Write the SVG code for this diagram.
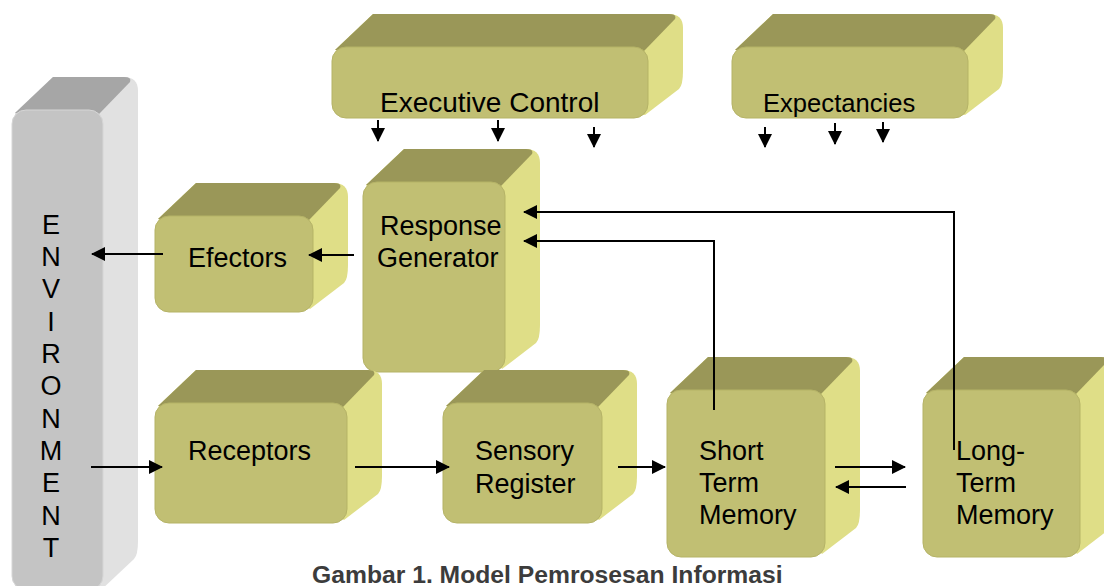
<svg xmlns="http://www.w3.org/2000/svg" width="1104" height="586" viewBox="0 0 1104 586">
<defs>
<style>
.side{fill:#dfde87}
.top{fill:#9a9758}
.front{fill:#c1bf73;stroke:#b5b367;stroke-width:1}
.gside{fill:#e1e1e1}
.gtop{fill:#a6a6a6}
.gfront{fill:#c4c4c4;stroke:#d6d6d6;stroke-width:1}
.lbl{font-family:"Liberation Sans",Arial,sans-serif;font-size:27px;fill:#000}
.cap{font-family:"Liberation Sans",Arial,sans-serif;font-size:24.7px;font-weight:bold;fill:#3c3c3c}
.con{stroke:#000;stroke-width:2;fill:none;marker-end:url(#ah)}
</style>
<marker id="ah" markerUnits="userSpaceOnUse" markerWidth="14" markerHeight="14" refX="13" refY="7" orient="auto">
<path d="M0,0 L14,7 L0,14 Z" fill="#000"/>
</marker>
</defs>
<rect width="1104" height="586" fill="#fff"/>

<g id="environment">
<path class="gside" d="M15,113 L53,77 L124,77 Q138,77 138,91 L138,541 Q138,555 134,559 L100,591 L15,591 Z"/>
<path class="gtop" d="M15,113 L53,77 L124,77 Q132,77 130,82 L99,114 Z"/>
<rect class="gfront" x="12" y="110" width="91" height="480" rx="14"/>
<text class="lbl" text-anchor="middle" x="51">
<tspan x="51" y="234">E</tspan><tspan x="51" y="266">N</tspan><tspan x="51" y="298">V</tspan><tspan x="51" y="331">I</tspan><tspan x="51" y="363">R</tspan><tspan x="51" y="395">O</tspan><tspan x="51" y="428">N</tspan><tspan x="51" y="460">M</tspan><tspan x="51" y="492">E</tspan><tspan x="51" y="525">N</tspan><tspan x="51" y="557">T</tspan>
</text>
</g>

<g id="executive-control">
<path class="side" d="M335,50 L373,14 L669,14 Q683,14 683,28 L683,71 Q683,85 679,89 L645,115 Z"/>
<path class="top" d="M335,50 L373,14 L669,14 Q677,14 675,19 L644,51 Z"/>
<rect class="front" x="332" y="47" width="316" height="71" rx="14"/>
<text class="lbl" x="380" y="112" style="font-size:28px">Executive Control</text>
</g>

<g id="expectancies">
<path class="side" d="M735,50 L773,14 L989,14 Q1003,14 1003,28 L1003,71 Q1003,85 999,89 L965,115 Z"/>
<path class="top" d="M735,50 L773,14 L989,14 Q997,14 995,19 L964,51 Z"/>
<rect class="front" x="732" y="47" width="236" height="71" rx="14"/>
<text class="lbl" x="763" y="112" style="font-size:25.6px">Expectancies</text>
</g>

<g id="efectors">
<path class="side" d="M158,219 L196,183 L334,183 Q348,183 348,197 L348,265 Q348,279 344,283 L310,309 Z"/>
<path class="top" d="M158,219 L196,183 L334,183 Q342,183 340,188 L309,220 Z"/>
<rect class="front" x="155" y="216" width="158" height="96" rx="14"/>
<text class="lbl" x="188" y="267">Efectors</text>
</g>

<g id="response-generator">
<path class="side" d="M366,185 L404,149 L526,149 Q540,149 540,163 L540,325 Q540,339 536,343 L502,369 Z"/>
<path class="top" d="M366,185 L404,149 L526,149 Q534,149 532,154 L501,186 Z"/>
<rect class="front" x="363" y="182" width="142" height="190" rx="14"/>
<text class="lbl"><tspan x="380" y="235">Response</tspan><tspan x="377" y="267">Generator</tspan></text>
</g>

<g id="receptors">
<path class="side" d="M158,406 L196,370 L368,370 Q382,370 382,384 L382,476 Q382,490 378,494 L344,520 Z"/>
<path class="top" d="M158,406 L196,370 L368,370 Q376,370 374,375 L343,407 Z"/>
<rect class="front" x="155" y="403" width="192" height="120" rx="14"/>
<text class="lbl" x="188" y="460">Receptors</text>
</g>

<g id="sensory-register">
<path class="side" d="M446,406 L484,370 L623,370 Q637,370 637,384 L637,476 Q637,490 633,494 L599,520 Z"/>
<path class="top" d="M446,406 L484,370 L623,370 Q631,370 629,375 L598,407 Z"/>
<rect class="front" x="443" y="403" width="159" height="120" rx="14"/>
<text class="lbl"><tspan x="475" y="460">Sensory</tspan><tspan x="475" y="493">Register</tspan></text>
</g>

<g id="short-term-memory">
<path class="side" d="M670,393 L708,357 L846,357 Q860,357 860,371 L860,510 Q860,524 856,528 L822,554 Z"/>
<path class="top" d="M670,393 L708,357 L846,357 Q854,357 852,362 L821,394 Z"/>
<rect class="front" x="667" y="390" width="158" height="167" rx="14"/>
<text class="lbl"><tspan x="699" y="460">Short</tspan><tspan x="699" y="492">Term</tspan><tspan x="699" y="524">Memory</tspan></text>
</g>

<g id="long-term-memory">
<path class="side" d="M926,393 L964,357 L1101,357 Q1115,357 1115,371 L1115,510 Q1115,524 1111,528 L1077,554 Z"/>
<path class="top" d="M926,393 L964,357 L1101,357 Q1109,357 1107,362 L1076,394 Z"/>
<rect class="front" x="923" y="390" width="157" height="167" rx="14"/>
</g>

<g id="connectors">
<path class="con" d="M378,120 V141"/>
<path class="con" d="M498,120 V141"/>
<path class="con" d="M594,127 V147"/>
<path class="con" d="M765,127 V147"/>
<path class="con" d="M835,123 V144"/>
<path class="con" d="M883,122 V142"/>
<path class="con" d="M163,254 H92"/>
<path class="con" d="M354,255 H309"/>
<path class="con" d="M91,467 H162"/>
<path class="con" d="M355,467 H449"/>
<path class="con" d="M618,467 H665"/>
<path class="con" d="M835,467 H905"/>
<path class="con" d="M906,487 H836"/>
<path class="con" d="M714,410 V241 H524"/>
<path class="con" d="M954,450 V212 H524"/>
</g>

<g id="long-term-memory-label">
<text class="lbl"><tspan x="956" y="460">Long-</tspan><tspan x="956" y="492">Term</tspan><tspan x="956" y="524">Memory</tspan></text>
</g>

<text class="cap" x="312" y="583">Gambar 1. Model Pemrosesan Informasi</text>
</svg>
